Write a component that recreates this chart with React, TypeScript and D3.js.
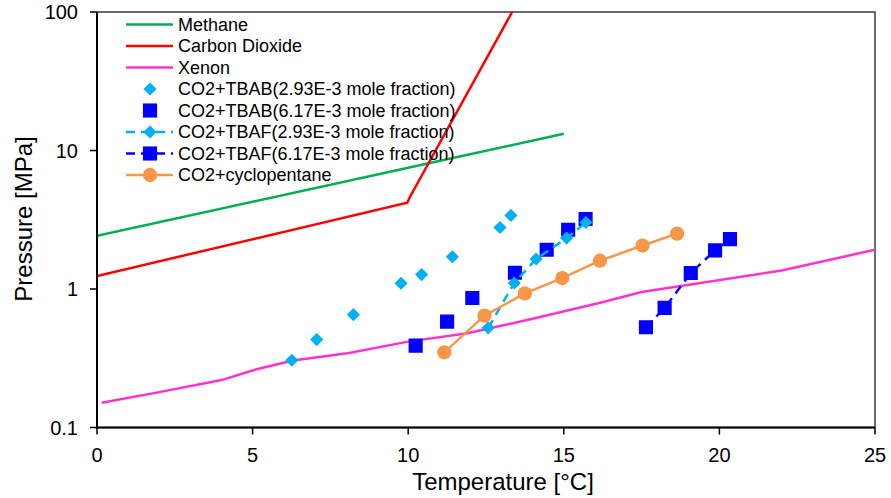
import { useEffect, useRef } from 'react';
import * as d3 from 'd3';

// hydrate equilibrium curves
const methaneT = [0, 10, 15];
const methaneP = [2.42, 7.5, 13.2];

const co2T = [0, 9.97, 10.05, 13.34];
const co2P = [1.24, 4.2, 4.6, 100];

const xenonT = [0.15, 2, 4, 5.1, 6.3, 8.1, 10, 11.9, 14, 16.2, 17.5, 22, 25];
const xenonP = [0.151, 0.18, 0.22, 0.262, 0.305, 0.345, 0.417, 0.48, 0.61, 0.8, 0.95, 1.36, 1.92];

const tbab293T = [6.26, 7.06, 8.24, 9.77, 10.43, 11.42, 12.95, 13.3];
const tbab293P = [0.306, 0.431, 0.653, 1.1, 1.27, 1.71, 2.78, 3.4];

const tbab617T = [10.24, 11.25, 12.06, 13.43, 14.45, 15.14, 15.7];
const tbab617P = [0.39, 0.581, 0.861, 1.31, 1.92, 2.68, 3.2];

const tbaf293T = [12.57, 13.41, 14.11, 15.09, 15.71];
const tbaf293P = [0.524, 1.105, 1.647, 2.33, 3.02];

const tbaf617T = [17.64, 18.24, 19.08, 19.86, 20.34];
const tbaf617P = [0.529, 0.73, 1.305, 1.9, 2.29];

const cycloT = [11.16, 12.45, 13.75, 14.95, 16.16, 17.53, 18.64];
const cycloP = [0.349, 0.642, 0.93, 1.2, 1.6, 2.06, 2.51];

const xTicks = [0, 5, 10, 15, 20, 25];
const yTicks = [0.1, 1, 10, 100];

const legendLabels = [
  'Methane',
  'Carbon Dioxide',
  'Xenon',
  'CO2+TBAB(2.93E-3 mole fraction)',
  'CO2+TBAB(6.17E-3 mole fraction)',
  'CO2+TBAF(2.93E-3 mole fraction)',
  'CO2+TBAF(6.17E-3 mole fraction)',
  'CO2+cyclopentane',
];

const zip = (ts: number[], ps: number[]) => ts.map((t, i) => [t, ps[i]] as [number, number]);

const App = () => {
  const svgRef = useRef<SVGSVGElement>(null);

  useEffect(() => {
    const width = 891;
    const height = 498;
    const left = 97, right = 875, top = 12, bottom = 427.5;
    const font = "'Liberation Sans', Arial, sans-serif";

    const svg = d3.select(svgRef.current);
    svg.selectAll('*').remove();
    svg.attr('width', width).attr('height', height);

    const x = d3.scaleLinear().domain([0, 25]).range([left, right]);
    const y = d3.scaleLog().domain([0.1, 100]).range([bottom, top]);

    svg.append('rect').attr('width', width).attr('height', height).attr('fill', '#fff');

    svg.append('clipPath').attr('id', 'plot-clip')
      .append('rect')
      .attr('x', left).attr('y', top)
      .attr('width', right - left).attr('height', bottom - top);

    // frame
    svg.append('rect')
      .attr('x', left).attr('y', top)
      .attr('width', right - left).attr('height', bottom - top)
      .attr('fill', 'none')
      .attr('stroke', '#3a3a3a')
      .attr('stroke-width', 1.5);

    const plot = svg.append('g').attr('clip-path', 'url(#plot-clip)');
    const line = d3.line<[number, number]>().x(d => x(d[0])).y(d => y(d[1]));

    const diamond = d3.symbol(d3.symbolDiamond2, 110);
    const square = d3.symbol(d3.symbolSquare, 200);
    const circle = d3.symbol(d3.symbolCircle, 160);

    const series = [
      { data: zip(methaneT, methaneP), color: '#00B050', line: true, dash: null, marker: null },
      { data: zip(co2T, co2P), color: '#FF0000', line: true, dash: null, marker: null },
      { data: zip(xenonT, xenonP), color: '#FF33CC', line: true, dash: null, marker: null },
      { data: zip(tbab293T, tbab293P), color: '#00B0F0', line: false, dash: null, marker: diamond },
      { data: zip(tbab617T, tbab617P), color: '#0000FF', line: false, dash: null, marker: square },
      { data: zip(tbaf293T, tbaf293P), color: '#00B0F0', line: true, dash: '9,6', marker: diamond },
      { data: zip(tbaf617T, tbaf617P), color: '#0000FF', line: true, dash: '9,6', marker: square },
      { data: zip(cycloT, cycloP), color: '#F79646', line: true, dash: null, marker: circle },
    ];

    series.forEach(s => {
      if (s.line) {
        plot.append('path')
          .attr('d', line(s.data))
          .attr('fill', 'none')
          .attr('stroke', s.color)
          .attr('stroke-width', 2.5)
          .attr('stroke-dasharray', s.dash);
      }
      if (s.marker) {
        plot.selectAll(null)
          .data(s.data)
          .enter()
          .append('path')
          .attr('d', s.marker())
          .attr('transform', d => `translate(${x(d[0])},${y(d[1])})`)
          .attr('fill', s.color);
      }
    });

    // axes
    const axisG = svg.append('g');
    axisG.append('line')
      .attr('x1', left).attr('x2', left).attr('y1', top).attr('y2', bottom + 1)
      .attr('stroke', '#000').attr('stroke-width', 2);
    axisG.append('line')
      .attr('x1', left - 1).attr('x2', right).attr('y1', bottom).attr('y2', bottom)
      .attr('stroke', '#000').attr('stroke-width', 2);

    yTicks.forEach(t => {
      axisG.append('line')
        .attr('x1', left - 7).attr('x2', left).attr('y1', y(t)).attr('y2', y(t))
        .attr('stroke', '#000').attr('stroke-width', 1.5);
      axisG.append('text')
        .attr('x', left - 19).attr('y', y(t))
        .attr('text-anchor', 'end')
        .attr('dominant-baseline', 'central')
        .style('font-family', font)
        .style('font-size', '20px')
        .attr('fill', '#000')
        .text(String(t));
    });

    xTicks.forEach(t => {
      axisG.append('line')
        .attr('x1', x(t)).attr('x2', x(t)).attr('y1', bottom).attr('y2', bottom + 7)
        .attr('stroke', '#000').attr('stroke-width', 1.5);
      axisG.append('text')
        .attr('x', x(t)).attr('y', 462)
        .attr('text-anchor', 'middle')
        .style('font-family', font)
        .style('font-size', '20px')
        .attr('fill', '#000')
        .text(String(t));
    });

    svg.append('text')
      .attr('x', 503).attr('y', 490)
      .attr('text-anchor', 'middle')
      .style('font-family', font)
      .style('font-size', '24px')
      .attr('fill', '#000')
      .text('Temperature [°C]');

    svg.append('text')
      .attr('transform', 'translate(32,219) rotate(-90)')
      .attr('text-anchor', 'middle')
      .style('font-family', font)
      .style('font-size', '24px')
      .attr('fill', '#000')
      .text('Pressure [MPa]');

    // legend
    const legend = svg.append('g');
    legendLabels.forEach((label, i) => {
      const s = series[i];
      const cy = 24.5 + i * 21.5;
      if (s.line) {
        legend.append('line')
          .attr('x1', 126).attr('x2', 173).attr('y1', cy).attr('y2', cy)
          .attr('stroke', s.color)
          .attr('stroke-width', 2.5)
          .attr('stroke-dasharray', s.dash);
      }
      if (s.marker) {
        legend.append('path')
          .attr('d', s.marker())
          .attr('transform', `translate(150,${cy})`)
          .attr('fill', s.color);
      }
      legend.append('text')
        .attr('x', 178).attr('y', cy)
        .attr('dominant-baseline', 'central')
        .style('font-family', font)
        .style('font-size', '18px')
        .attr('fill', '#000')
        .text(label);
    });
  }, []);

  return (
    <div style={{ position: 'absolute', left: 0, top: 0 }}>
      <svg ref={svgRef} />
    </div>
  );
};

export default App;
